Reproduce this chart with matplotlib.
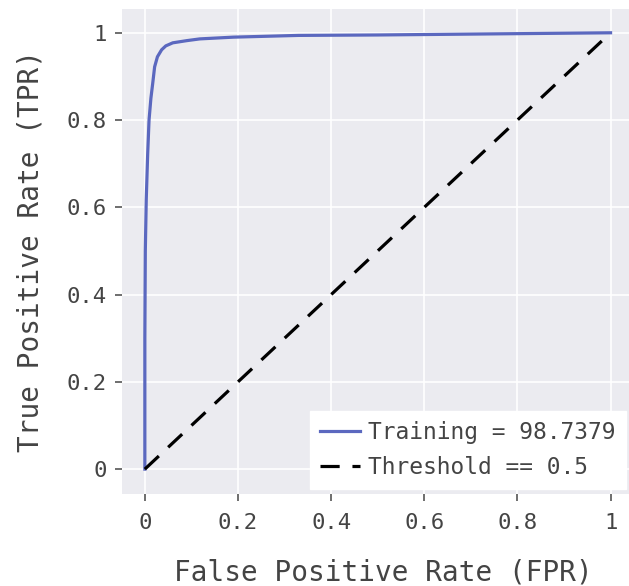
import matplotlib
matplotlib.use("Agg")
import matplotlib.pyplot as plt

# ROC curve
fpr = [0.0, 0.0, 0.001, 0.003, 0.006, 0.009, 0.013, 0.017, 0.021, 0.027,
       0.036, 0.045, 0.06, 0.09, 0.118, 0.19, 0.33, 0.5, 0.7, 0.8, 0.9, 1.0]
tpr = [0.0, 0.3, 0.5, 0.617, 0.72, 0.80, 0.85, 0.885, 0.922, 0.945,
       0.961, 0.970, 0.977, 0.982, 0.986, 0.990, 0.994, 0.995, 0.997, 0.998, 0.999, 1.0]
diag = [0.0, 1.0]
ticks = [0, 0.2, 0.4, 0.6, 0.8, 1]
tick_labels = ["0", "0.2", "0.4", "0.6", "0.8", "1"]
auc_label = "Training = 98.7379"
thr_label = "Threshold == 0.5"

plt.rcParams["font.family"] = ["DejaVu Sans Mono"]

fig = plt.figure(figsize=(6.29, 5.86), dpi=100)
ax = fig.add_axes([0.194, 0.157, 0.83, 0.828])
ax.set_facecolor("#ebebf0")
for s in ax.spines.values():
    s.set_visible(False)

ax.grid(True, color="white", linewidth=1.2)
ax.set_axisbelow(True)

ax.plot(fpr, tpr, color="#5b68bf", linewidth=2.3, label=auc_label, zorder=3)
ax.plot(diag, diag, color="black", linewidth=2.3, dashes=(6, 4), label=thr_label, zorder=3)

# axes is wider than the figure, so the right end is cut as in the original
ax.set_xlim(-0.049, 1.072)
ax.set_ylim(-0.057, 1.055)
ax.set_xticks(ticks)
ax.set_xticklabels(tick_labels)
ax.set_yticks(ticks)
ax.set_yticklabels(tick_labels)
ax.tick_params(direction="out", length=5, width=1.2, color="#555555",
               labelcolor="#444444", labelsize=16, pad=6)
ax.tick_params(axis="x", pad=9)

ax.set_xlabel("False Positive Rate (FPR)", fontsize=20, color="#444444", labelpad=18)
ax.set_ylabel("True Positive Rate (TPR)", fontsize=20, color="#444444", labelpad=16)

leg = ax.legend(loc="lower left", bbox_to_anchor=(310 / 629, 1 - 489 / 586),
                bbox_transform=fig.transFigure, fontsize=16.5, frameon=True,
                fancybox=False, framealpha=1, edgecolor="white", facecolor="white",
                handlelength=1.75, handletextpad=0.35, borderpad=0.45,
                borderaxespad=0, labelspacing=0.5)
for t in leg.get_texts():
    t.set_color("#444444")

fig.savefig("out.png", dpi=100)
